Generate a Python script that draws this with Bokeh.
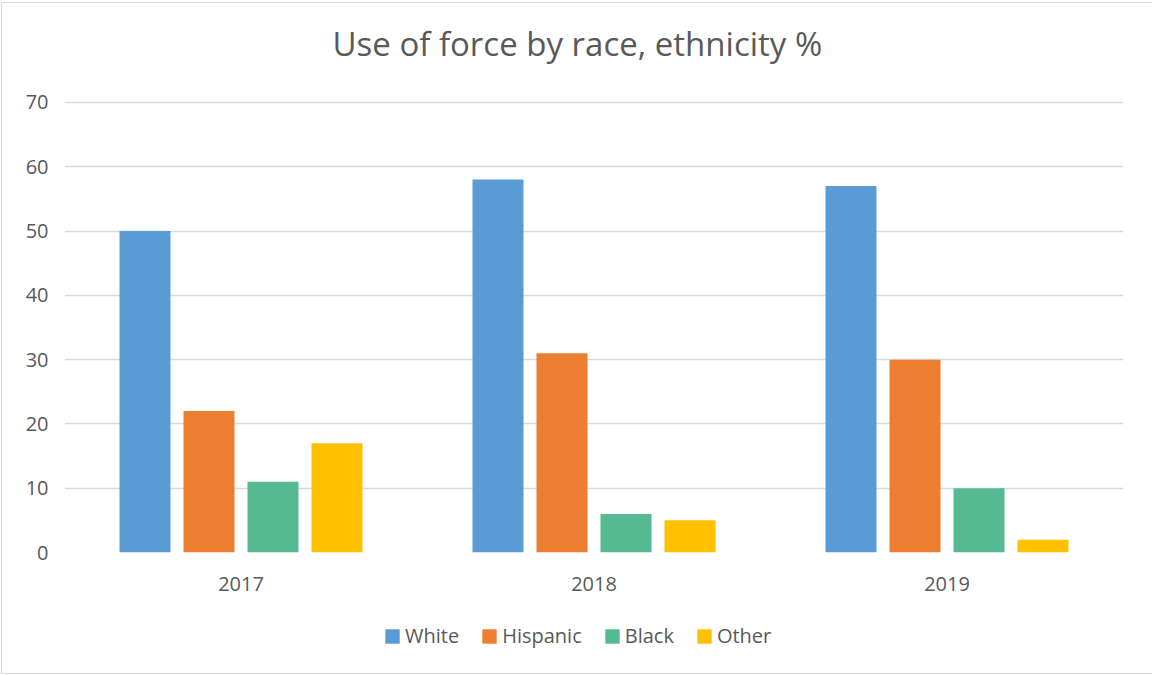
from bokeh.plotting import figure
from bokeh.layouts import column
from bokeh.models import (ColumnDataSource, FactorRange, Range1d, Legend, LegendItem,
                          Title, SingleIntervalTicker)
from bokeh.transform import dodge
from bokeh.embed import file_html
from bokeh.resources import INLINE

# Share of use-of-force incidents by race / ethnicity (%)
years = ["2017", "2018", "2019"]
white = [50, 58, 57]
hispanic = [22, 31, 30]
black = [11, 6, 10]
other = [17, 5, 2]

series_names = ["White", "Hispanic", "Black", "Other"]
series_values = [white, hispanic, black, other]
series_colors = ["#5B9BD5", "#ED7D31", "#55BA91", "#FFC000"]

FONT = "Open Sans"
TEXT = "#595959"
GRID = "#D9D9D9"

source = ColumnDataSource(data=dict(year=years, **dict(zip(series_names, series_values))))

chart = figure(width=1150, height=607, x_range=FactorRange(factors=years, range_padding=0),
               y_range=Range1d(0, 70.15), output_backend="svg", toolbar_location=None,
               title="Use of force by race, ethnicity %",
               min_border_left=62, min_border_right=29, min_border_top=98,
               min_border_bottom=58)
chart.outline_line_color = None
chart.background_fill_color = "white"
chart.border_fill_color = "white"

step = 0.1813
bar_w = 0.1445
for i, (name, color) in enumerate(zip(series_names, series_colors)):
    chart.vbar(x=dodge("year", (i - 1.5) * step, range=chart.x_range), top=name, width=bar_w,
               source=source, fill_color=color, line_color=None)

# axes
chart.yaxis.ticker = SingleIntervalTicker(interval=10)
chart.yaxis.axis_line_color = None
chart.yaxis.major_tick_line_color = None
chart.yaxis.minor_tick_line_color = None
chart.yaxis.major_label_standoff = 10
chart.yaxis.major_label_text_font = FONT
chart.yaxis.major_label_text_font_size = "20px"
chart.yaxis.major_label_text_color = TEXT

chart.xaxis.axis_line_color = None
chart.xaxis.major_tick_line_color = None
chart.xaxis.minor_tick_line_color = None
chart.xaxis.major_label_standoff = 18
chart.xaxis.major_label_text_font = FONT
chart.xaxis.major_label_text_font_size = "20px"
chart.xaxis.major_label_text_color = TEXT

chart.xgrid.grid_line_color = None
chart.ygrid.grid_line_color = GRID
chart.ygrid.grid_line_width = 1.3

# title, kept clear of the plot area by a thin blank panel
chart.title.align = "left"
chart.title.offset = 268
chart.title.vertical_align = "bottom"
chart.title.standoff = 4
chart.title.text_font = FONT
chart.title.text_font_size = "33px"
chart.title.text_font_style = "normal"
chart.title.text_color = TEXT
chart.add_layout(Title(text=" ", text_font_size="1px", standoff=31), "above")

# legend strip under the chart; its swatch renderers lie far outside the strip's ranges
key = figure(width=1150, height=63, x_range=Range1d(100, 101), y_range=Range1d(100, 101),
             output_backend="svg", toolbar_location=None, min_border=0,
             x_axis_type=None, y_axis_type=None)
key.outline_line_color = None
key.xgrid.grid_line_color = None
key.ygrid.grid_line_color = None
key.background_fill_color = "white"
key.border_fill_color = "white"
swatches = [key.vbar(x=n, top=n, width=0.1, source=source, fill_color=c, line_color=None)
            for n, c in zip(series_names, series_colors)]
legend = Legend(items=[LegendItem(label=n, renderers=[r]) for n, r in zip(series_names, swatches)],
                orientation="horizontal", location=(319, 24), padding=0, margin=0,
                spacing=21, glyph_width=18, glyph_height=18, label_standoff=4,
                label_height=20, label_text_font=FONT, label_text_font_size="20px",
                label_text_color=TEXT, border_line_color=None, background_fill_alpha=0)
key.add_layout(legend, "center")

p = column(chart, key, spacing=0,
           styles={"margin-left": "1px", "margin-top": "2px",
                   "border-left": "1px solid #D9D9D9", "border-top": "1px solid #D9D9D9",
                   "border-bottom": "1px solid #D9D9D9"})

open("out.html", "w").write(file_html(p, INLINE))
